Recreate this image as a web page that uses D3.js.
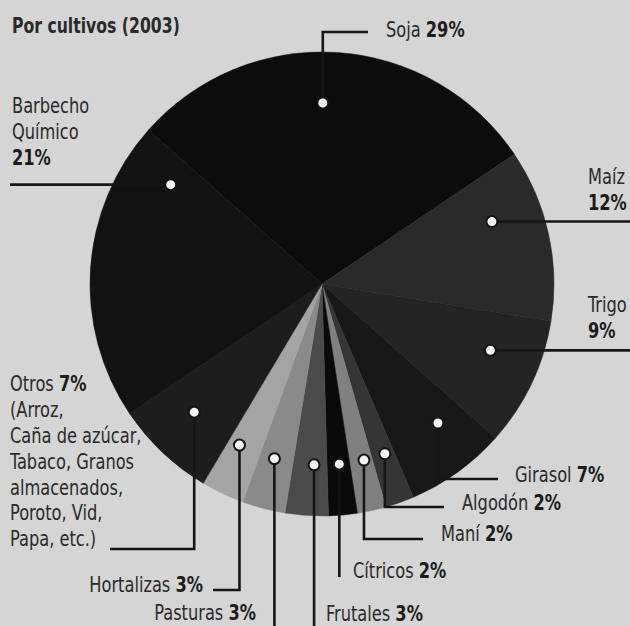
<!DOCTYPE html>
<html>
<head>
<meta charset="utf-8">
<script src="https://cdn.jsdelivr.net/npm/d3@7/dist/d3.min.js"></script>
<style>
  html, body { margin: 0; padding: 0; background: #d5d5d5; }
  svg { display: block; }
  text { font-family: "DejaVu Sans Condensed", "Liberation Sans Narrow", "Roboto Condensed", sans-serif; fill: #2a2a2a; }
</style>
</head>
<body>
<svg id="chart" width="630" height="626"></svg>
<script>
// ---------- data ----------
const title = "Por cultivos (2003)";
const categories = ["Soja", "Maíz", "Trigo", "Girasol", "Algodón", "Maní", "Cítricos",
                    "Frutales", "Pasturas", "Hortalizas", "Otros", "Barbecho Químico"];
const shares = [29, 12, 9, 7, 2, 2, 2, 3, 3, 3, 7, 21];
const percentLabels = ["29%", "12%", "9%", "7%", "2%", "2%", "2%", "3%", "3%", "3%", "7%", "21%"];
const otrosDetail = ["(Arroz,", "Caña de azúcar,", "Tabaco, Granos", "almacenados,", "Poroto, Vid,", "Papa, etc.)"];

// ---------- styles ----------
const sliceColors = ["#0c0c0c", "#2a2a2a", "#242424", "#181818", "#353535", "#808080",
                     "#0a0a0a", "#4b4b4b", "#8a8a8a", "#a4a4a4", "#1d1d1d", "#121212"];

// ---------- layout ----------
const W = 630, H = 626;
const cx = 322, cy = 284, R = 232, dotR = 181;
const deg = Math.PI / 180;
const startDeg = -48.4;
const FS = 20.5, SX = 0.88;

// where along each slice (fraction of its angular span) the callout dot sits
const dotFrac = [0.466, 0.32, 0.38, 0.34, 0.40, 0.36, 0.46, 0.38, 0.56, 0.66, 0.56, 0.89];

const svg = d3.select("#chart");
svg.append("rect").attr("width", W).attr("height", H).attr("fill", "#d5d5d5");

const pie = d3.pie().sort(null).value(d => d)
  .startAngle(startDeg * deg).endAngle((startDeg + 360) * deg);
const arcs = pie(shares);
const arc = d3.arc().innerRadius(0).outerRadius(R);

const g = svg.append("g").attr("transform", `translate(${cx},${cy})`);
g.selectAll("path.slice").data(arcs).enter().append("path")
  .attr("class", "slice")
  .attr("d", arc)
  .attr("fill", (d, i) => sliceColors[i])
  .attr("stroke", (d, i) => sliceColors[i])
  .attr("stroke-width", 0.5);

// dot positions computed from the pie's angles
const dots = arcs.map((d, i) => {
  const a = d.startAngle + dotFrac[i] * (d.endAngle - d.startAngle);
  return [cx + dotR * Math.sin(a), cy - dotR * Math.cos(a)];
});

// leader line routes
const routes = [
  {type: "vh", y: 32, x: 368},   // Soja
  {type: "h", x: 632},           // Maíz
  {type: "h", x: 632},           // Trigo
  {type: "vh", y: 479, x: 498},  // Girasol
  {type: "vh", y: 507, x: 444},  // Algodón
  {type: "vh", y: 539, x: 423},  // Maní
  {type: "v", y: 577},           // Cítricos
  {type: "v", y: 630},           // Frutales
  {type: "v", y: 630},           // Pasturas
  {type: "vh", y: 590, x: 213},  // Hortalizas
  {type: "vh", y: 549, x: 110},  // Otros
  {type: "h", x: 10}             // Barbecho
];

const line = d3.line();
svg.selectAll("path.leader").data(routes).enter().append("path")
  .attr("class", "leader")
  .attr("d", (r, i) => {
    const [x0, y0] = dots[i];
    let pts;
    if (r.type === "h") pts = [[x0, y0], [r.x, y0]];
    else if (r.type === "v") pts = [[x0, y0], [x0, r.y]];
    else pts = [[x0, y0], [x0, r.y], [r.x, r.y]];
    return line(pts);
  })
  .attr("fill", "none")
  .attr("stroke", "#161616")
  .attr("stroke-width", 2.6);

svg.selectAll("circle.dot").data(dots).enter().append("circle")
  .attr("class", "dot")
  .attr("cx", d => d[0]).attr("cy", d => d[1])
  .attr("r", 5.5)
  .attr("fill", "#f4f4f4")
  .attr("stroke", "#141414")
  .attr("stroke-width", 2);

// ---------- text ----------
function textAt(x, y, sx, anchor) {
  return svg.append("g").attr("transform", `translate(${x},${y}) scale(${sx},1)`)
    .append("text").attr("x", 0).attr("y", 0).attr("font-size", FS)
    .attr("text-anchor", anchor || "start");
}

textAt(12, 33, 0.85).attr("font-weight", "bold").attr("fill", "#222").text(title);

function inlineLabel(i, x, y, anchor) {
  const t = textAt(x, y, SX, anchor);
  t.append("tspan").text(categories[i] + " ");
  t.append("tspan").attr("font-weight", "bold").attr("fill", "#1c1c1c").text(percentLabels[i]);
}
function stackedLabel(i, x, y0, step, nameLines) {
  const t = textAt(x, y0, SX);
  nameLines.forEach((s, k) => t.append("tspan").attr("x", 0).attr("y", k * step).text(s));
  t.append("tspan").attr("x", 0).attr("y", nameLines.length * step)
    .attr("font-weight", "bold").attr("fill", "#1c1c1c").text(percentLabels[i]);
}

inlineLabel(0, 386, 37);
stackedLabel(1, 588, 184, 26, ["Maíz"]);
stackedLabel(2, 588, 312, 26, ["Trigo"]);
inlineLabel(3, 515, 482);
inlineLabel(4, 462, 510);
inlineLabel(5, 441, 541);
inlineLabel(6, 353, 578);
inlineLabel(7, 326, 621);
inlineLabel(8, 256, 620, "end");
inlineLabel(9, 203, 592, "end");
stackedLabel(11, 12, 113, 26, categories[11].split(" "));

// Otros multi-line label
const ot = textAt(10, 391, SX);
const o1 = ot.append("tspan").attr("x", 0).attr("y", 0);
o1.append("tspan").text(categories[10] + " ");
o1.append("tspan").attr("font-weight", "bold").attr("fill", "#1c1c1c").text(percentLabels[10]);
otrosDetail.forEach((s, k) => ot.append("tspan").attr("x", 0).attr("y", (k + 1) * 25.9).text(s));
</script>
</body>
</html>
